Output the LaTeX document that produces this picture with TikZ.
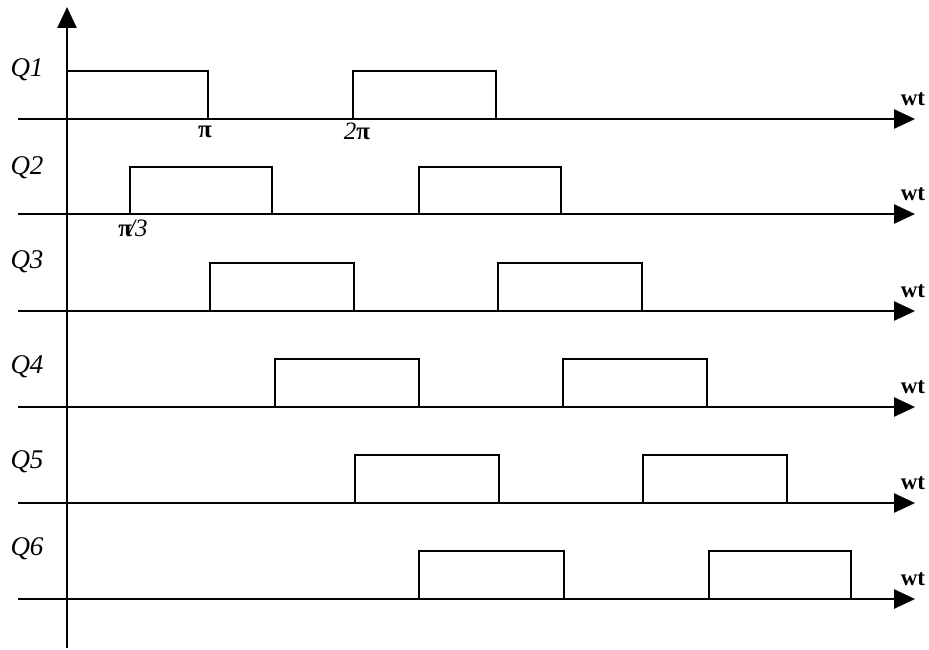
\documentclass[tikz,border=0pt]{standalone}
\usepackage{fontspec}
\setmainfont{Liberation Serif}
\usetikzlibrary{arrows.meta}
\begin{document}
\begin{tikzpicture}[x=1pt,y=-1pt,line width=2.6pt,
  axisline/.style={-{Triangle[length=21pt,width=19pt]}},
  pulse/.style={line join=miter,line cap=butt},
  qlab/.style={font=\fontsize{27}{27}\selectfont\itshape,inner sep=0pt},
  wtlab/.style={font=\fontsize{23}{23}\selectfont\bfseries,inner sep=0pt},
  ticklab/.style={font=\fontsize{25}{25}\selectfont,inner sep=0pt}]
\useasboundingbox (0,0) rectangle (929,650);
% vertical axis
\coordinate (vb) at (67,648);
\coordinate (vt) at (67,7);
\draw[axisline] (vb) -- (vt);
% rows
\foreach \i/\ay/\ty/\ly/\pa/\pb/\pc/\pd in {
  1/119/71/70/67/208/353/496,
  2/214/167/168/130/272/419/561,
  3/311/263/262/210/354/498/642,
  4/407/359/367/275/419/563/707,
  5/503/455/462/355/499/643/787,
  6/599/551/549/419/564/709/851}{
  \coordinate (s\i) at (18,\ay);
  \coordinate (e\i) at (915,\ay);
  \draw[axisline] (s\i) -- (e\i);
  \coordinate (p\i a) at (\pa,\ay);
  \coordinate (p\i b) at (\pb,\ay);
  \coordinate (p\i c) at (\pc,\ay);
  \coordinate (p\i d) at (\pd,\ay);
  \draw[pulse] (p\i a) -- (\pa,\ty) -- (\pb,\ty) -- (p\i b);
  \draw[pulse] (p\i c) -- (\pc,\ty) -- (\pd,\ty) -- (p\i d);
  \node[qlab] (q\i) at (27,\ly) {Q\i};
  \node[wtlab] (w\i) at (913,\ay-20) {wt};
}
\node[ticklab] (pi) at (205,132) {\textbf{π}};
\node[ticklab] (twopi) at (357,131) {\textit{2}\textbf{π}};
\node[ticklab] (pithird) at (133,228) {\textbf{π}\kern-4pt\textit{/3}};
\end{tikzpicture}
\end{document}
